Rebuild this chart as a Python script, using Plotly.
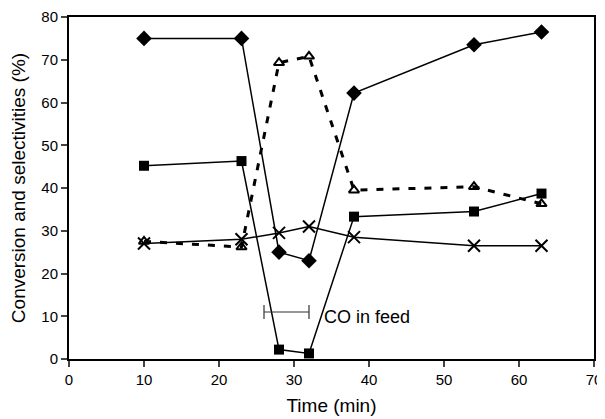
import plotly.graph_objects as go

time = [10, 23, 28, 32, 38, 54, 63]
conversion = [75.0, 75.0, 25.0, 23.0, 62.2, 73.5, 76.5]
sel_square = [45.2, 46.3, 2.2, 1.3, 33.3, 34.5, 38.7]
sel_triangle = [27.5, 26.2, 69.3, 70.8, 39.5, 40.3, 36.3]
sel_cross = [27.0, 28.0, 29.5, 31.0, 28.5, 26.5, 26.5]

co_start, co_end, co_level = 26, 32, 11
co_label = "CO in feed"

FONT = "Liberation Sans, Arial"

fig = go.Figure()

fig.add_trace(go.Scatter(x=time, y=sel_triangle, mode="lines+markers",
                         line=dict(color="black", width=3, dash="7px,9px"),
                         marker=dict(symbol="triangle-up-open", size=9, color="black",
                                     line=dict(width=2, color="black"))))
fig.add_trace(go.Scatter(x=time, y=sel_cross, mode="lines+markers",
                         line=dict(color="black", width=1.5),
                         marker=dict(symbol="x-thin-open", size=12, color="black",
                                     line=dict(width=2, color="black"))))
fig.add_trace(go.Scatter(x=time, y=sel_square, mode="lines+markers",
                         line=dict(color="black", width=1.5),
                         marker=dict(symbol="square", size=10, color="black")))
fig.add_trace(go.Scatter(x=time, y=conversion, mode="lines+markers",
                         line=dict(color="black", width=1.5),
                         marker=dict(symbol="diamond", size=12, color="black")))

# CO in feed bar
mid = (co_start + co_end) / 2
fig.add_trace(go.Scatter(x=[mid], y=[co_level], mode="markers",
                         marker=dict(size=1, color="rgba(0,0,0,0)"),
                         error_x=dict(type="data", array=[(co_end - co_start) / 2],
                                      symmetric=True, color="#333", thickness=1.2, width=7)))
fig.add_annotation(x=co_end + 1.7, y=co_level - 1.2, text=co_label, showarrow=False,
                   xanchor="left", yanchor="middle",
                   font=dict(family=FONT, size=18, color="black"))

# page body has an 8px margin, so the figure is sized to the visible area
fig.update_layout(
    width=597, height=411,
    margin=dict(l=61, r=11, t=9, b=60),
    paper_bgcolor="white", plot_bgcolor="white",
    showlegend=False,
    font=dict(family=FONT, size=15, color="black"),
)
fig.update_xaxes(range=[0, 70], dtick=10, ticks="outside", ticklen=6, tickwidth=1.5,
                 showgrid=False, zeroline=False, showline=True, linecolor="black",
                 linewidth=2, mirror=True, automargin=False,
                 title=dict(text="Time (min)", font=dict(size=19), standoff=12),
                 tickfont=dict(size=15))
fig.update_yaxes(range=[0, 80], dtick=10, ticks="outside", ticklen=6, tickwidth=1.5,
                 showgrid=False, zeroline=False, showline=True, linecolor="black",
                 linewidth=2, mirror=True, automargin=False,
                 title=dict(text="Conversion and selectivities (%)", font=dict(size=19), standoff=12),
                 tickfont=dict(size=15))

fig.write_html("out.html")
